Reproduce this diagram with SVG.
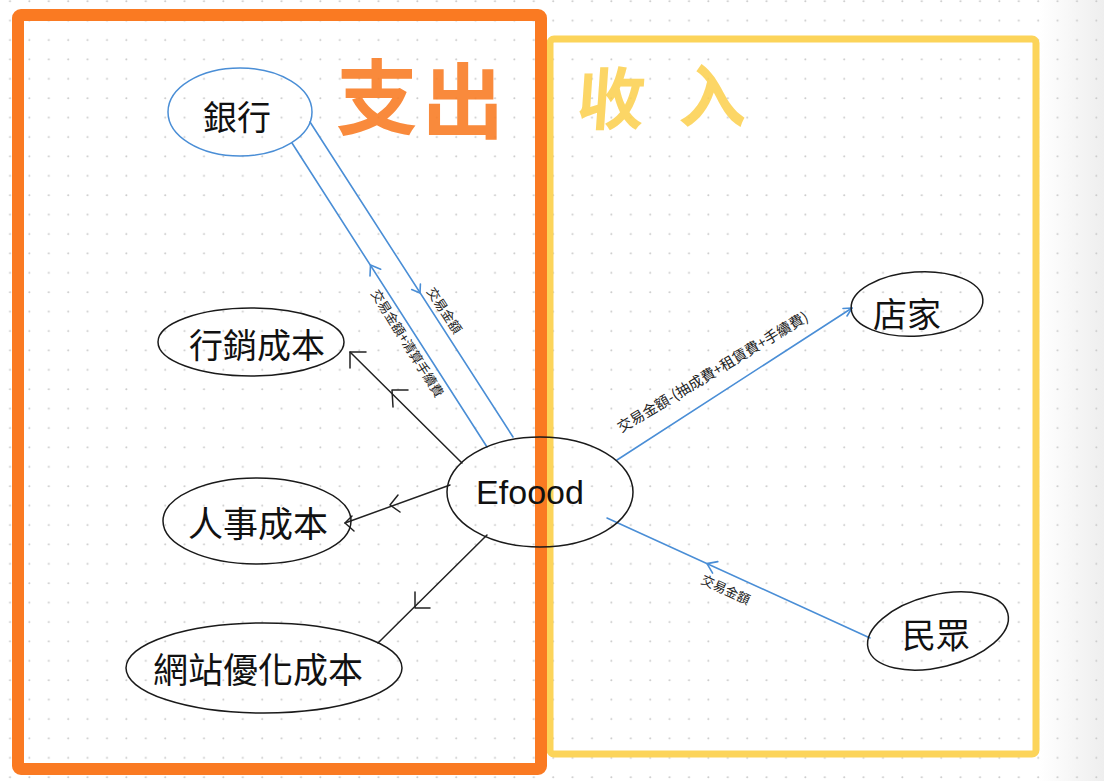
<svg xmlns="http://www.w3.org/2000/svg" width="1104" height="781" viewBox="0 0 1104 781">
<defs>
  <pattern id="dots" x="0" y="0" width="19.4" height="19.4" patternUnits="userSpaceOnUse">
    <circle cx="10" cy="1.2" r="1" fill="#c9c9c9"/>
  </pattern>
  <linearGradient id="edge" x1="0" y1="0" x2="1" y2="0">
    <stop offset="0" stop-color="#ffffff"/>
    <stop offset="1" stop-color="#eeeeee"/>
  </linearGradient>
  <style>
    .node { fill: none; stroke: #1a1a1a; stroke-width: 1.5; }
    .bank { fill: none; stroke: #4a8ed6; stroke-width: 1.5; }
    .lbl { font-family: "Noto Sans CJK TC", "Noto Sans CJK SC", sans-serif; font-size: 34px; fill: #111; text-anchor: middle; dominant-baseline: central; }
    .en { font-family: "Liberation Sans", Arial, sans-serif; font-size: 34px; fill: #111; text-anchor: middle; dominant-baseline: central; }
    .small { font-family: "Noto Sans CJK TC", "Noto Sans CJK SC", sans-serif; font-size: 12.5px; fill: #222; text-anchor: middle; dominant-baseline: central; }
    .bl { stroke: #4a8ed6; stroke-width: 1.6; fill: none; stroke-linecap: round; stroke-linejoin: round; }
    .kl { stroke: #222; stroke-width: 1.5; fill: none; stroke-linecap: round; stroke-linejoin: round; }
    .hand { font-family: "Noto Sans CJK SC", "Noto Sans CJK TC", sans-serif; font-weight: 700; text-anchor: middle; }
  </style>
</defs>

<!-- background -->
<rect x="0" y="0" width="1104" height="781" fill="#ffffff"/>
<rect x="1040" y="0" width="64" height="781" fill="url(#edge)"/>
<rect x="0" y="0" width="1104" height="781" fill="url(#dots)"/>

<!-- frames -->
<g id="income-frame">
  <rect x="550" y="39" width="486" height="715" rx="4" fill="none" stroke="#fcd45a" stroke-width="7"/>
  <text class="hand" x="610" y="124" font-size="68" fill="#fcd04c" opacity="0.85" transform="skewX(-4)" dx="8">收</text>
  <text class="hand" x="712" y="122" font-size="68" fill="#fcd04c" opacity="0.85">入</text>
</g>
<g id="expense-frame">
  <rect x="18" y="15" width="523" height="754" rx="3" fill="none" stroke="#fa7a22" stroke-width="12"/>
  <text class="hand" x="377" y="128" font-size="82" fill="#f97b22" opacity="0.88">支</text>
  <text class="hand" x="463" y="132" font-size="82" fill="#f97b22" opacity="0.88">出</text>
</g>

<!-- connectors -->
<g id="connectors">
  <!-- Bank -> Efoood -->
  <line class="bl" x1="310" y1="122" x2="513" y2="437"/>
  <polyline class="bl" points="420.4,284 420,293 411.7,289.6"/>
  <text class="small" x="445" y="310" style="font-size:13px" transform="rotate(57 445 310)">交易金額</text>
  <!-- Efoood -> Bank -->
  <line class="bl" x1="487" y1="447" x2="292" y2="143"/>
  <polyline class="bl" points="370,276 370.5,265 380.7,269.2"/>
  <text class="small" x="408" y="343" style="font-size:13px" transform="rotate(58 408 343)">交易金額+清算手續費</text>
  <!-- Efoood -> 行銷成本 -->
  <line class="kl" x1="462" y1="463" x2="350" y2="352"/>
  <polyline class="kl" points="366,352 350,352 350,368"/>
  <polyline class="kl" points="408,390 392,390 393,407"/>
  <!-- Efoood -> 人事成本 -->
  <line class="kl" x1="450" y1="485" x2="345" y2="523"/>
  <polyline class="kl" points="352,516 345,523 354,531"/>
  <polyline class="kl" points="398,495 390,505 400,512"/>
  <!-- Efoood -> 網站優化成本 -->
  <line class="kl" x1="487" y1="535" x2="378" y2="643"/>
  <polyline class="kl" points="415,592 415,608 430,608"/>
  <!-- Efoood -> 店家 -->
  <line class="bl" x1="617" y1="460" x2="852" y2="308"/>
  <polyline class="bl" points="843,308.5 852,308 847,316"/>
  <text class="small" x="712" y="371" style="font-size:14.5px" transform="rotate(-31 712 371)">交易金額-(抽成費+租賃費+手續費)</text>
  <!-- 民眾 -> Efoood -->
  <line class="bl" x1="870" y1="638" x2="607" y2="518"/>
  <polyline class="bl" points="712.6,573.1 707,563.6 717.8,561.6"/>
  <text class="small" x="726" y="589" style="font-size:13px" transform="rotate(25 726 589)">交易金額</text>
</g>

<!-- nodes -->
<g id="node-bank">
  <ellipse class="bank" cx="240" cy="112" rx="72" ry="44"/>
  <text class="lbl" x="237" y="115">銀行</text>
</g>
<g id="node-marketing">
  <ellipse class="node" cx="251" cy="342" rx="93" ry="34"/>
  <text class="lbl" x="257" y="343">行銷成本</text>
</g>
<g id="node-hr">
  <ellipse class="node" cx="257" cy="521" rx="94" ry="43"/>
  <text class="lbl" x="258" y="521" style="font-size:35px">人事成本</text>
</g>
<g id="node-web">
  <ellipse class="node" cx="264" cy="668" rx="138" ry="45"/>
  <text class="lbl" x="258" y="667" style="font-size:35px">網站優化成本</text>
</g>
<g id="node-efoood">
  <ellipse class="node" cx="540" cy="492" rx="93" ry="55"/>
  <text class="en" x="530" y="492">Efoood</text>
</g>
<g id="node-store">
  <ellipse class="node" cx="917" cy="304" rx="66" ry="32" transform="rotate(-4 917 304)"/>
  <text class="lbl" x="907" y="312">店家</text>
</g>
<g id="node-public">
  <ellipse class="node" cx="938" cy="631" rx="72" ry="36" transform="rotate(-14 938 631)"/>
  <text class="lbl" x="936" y="633">民眾</text>
</g>
</svg>
